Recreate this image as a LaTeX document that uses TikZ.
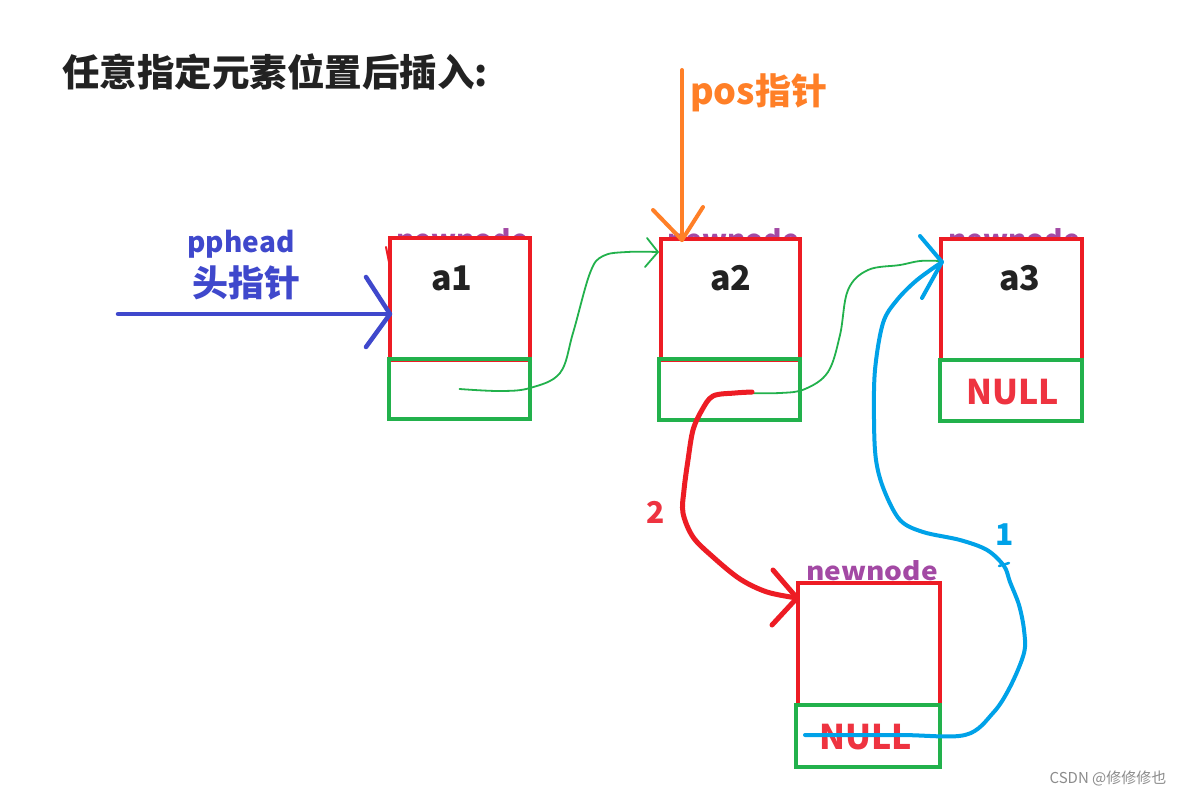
\documentclass[tikz,border=0pt]{standalone}
\usepackage{fontspec}
\setmainfont{Noto Sans CJK SC}
\definecolor{boxred}{HTML}{ED1C24}
\definecolor{boxgreen}{HTML}{22B14C}
\definecolor{hblue}{HTML}{3F48CC}
\definecolor{porange}{HTML}{FF7F27}
\definecolor{lblue}{HTML}{00A2E8}
\definecolor{nnpurple}{HTML}{A349A4}
\definecolor{titlec}{HTML}{222222}
\definecolor{redtxt}{HTML}{EE3340}
\begin{document}
\begin{tikzpicture}[x=1pt,y=-1pt,
  datbox/.style={draw=boxred,line width=4pt,fill=white},
  nxtbox/.style={draw=boxgreen,line width=4pt},
  lbl/.style={inner sep=0pt,font=\fontsize{34}{36}\selectfont\bfseries},
  nn/.style={inner sep=0pt,anchor=base,text=nnpurple,font=\fontsize{25}{27}\selectfont\bfseries,xscale=1.12},
  gline/.style={draw=boxgreen,line width=1.8pt,line cap=round,line join=round},
  hand/.style={line cap=round,line join=round}
]
\useasboundingbox (0,0) rectangle (1192,797);
\fill[white] (0,0) rectangle (1192,797);

% title
\node[inner sep=0pt,anchor=west,text=titlec,font=\fontsize{37.5}{40}\selectfont\bfseries] (title) at (62,72) {任意指定元素位置后插入:};

% hidden newnode labels (peeking above the boxes)
\node[nn] (nn1) at (462,248.5) {newnode};
\node[nn] (nn2) at (733,248.5) {newnode};
\node[nn] (nn3) at (1014,248.5) {newnode};

% node a1
\draw[datbox] (390,238) rectangle (530,360);
\node[minimum width=140pt,minimum height=122pt,inner sep=0pt] (a1) at (460,299) {};
\draw[nxtbox] (389,359) rectangle (530,419);
\coordinate (a1n) at (459.5,389);
% node a2
\draw[datbox] (661,239) rectangle (800,360);
\node[minimum width=139pt,minimum height=121pt,inner sep=0pt] (a2) at (730.5,299.5) {};
\draw[nxtbox] (659,359) rectangle (800,420);
% node a3
\draw[datbox] (941,239) rectangle (1082,360);
\node[minimum width=141pt,minimum height=121pt,inner sep=0pt] (a3) at (1011.5,299.5) {};
\draw[nxtbox] (940,360) rectangle (1082,421);
% newnode
\draw[datbox] (798,583) rectangle (940,705);
\node[minimum width=142pt,minimum height=122pt,inner sep=0pt] (nw) at (869,644) {};
\draw[nxtbox] (796,705) rectangle (940,767);

\node[lbl,text=titlec] (ta1) at (452,278) {a1};
\node[lbl,text=titlec] (ta2) at (731,278) {a2};
\node[lbl,text=titlec] (ta3) at (1020,278) {a3};
\node[lbl,text=redtxt] (null3) at (1013,392) {NULL};
\node[lbl,text=redtxt] (nullw) at (866,737) {NULL};
\node[nn] (nnw) at (872,580) {newnode};

% head pointer
\coordinate (hs) at (118,314);
\coordinate (he) at (390,314);
\draw[hand,hblue,line width=4.5pt] (hs) -- (he);
\draw[hand,hblue,line width=4.5pt] (366,277) -- (he) -- (366,347);
\node[inner sep=0pt,text=hblue,font=\fontsize{28}{30}\selectfont\bfseries] (pp) at (241,244) {pphead};
\node[inner sep=0pt,text=hblue,font=\fontsize{36}{38}\selectfont\bfseries] (tz) at (246,283) {头指针};
\draw[hand,boxred,line width=2pt] (386,247) -- (389,262);

% pos pointer
\coordinate (ps) at (682,70);
\coordinate (pe) at (682,240);
\draw[hand,porange,line width=4pt] (ps) -- (pe);
\draw[hand,porange,line width=4pt] (653,210) -- (pe) -- (703,207);
\node[inner sep=0pt,anchor=west,text=porange,font=\fontsize{36}{38}\selectfont\bfseries] (pos) at (690,93) {pos指针};

% green a1 -> a2
\coordinate (g1e) at (658,252);
\draw[gline] plot[smooth,tension=0.6] coordinates {(a1n) (500,391) (530,388) (560,373) (573,333) (590,273) (603,256) (627,252) (g1e)};
\draw[gline] (647,238) -- (g1e) -- (645,267);
% green a2 -> a3
\coordinate (g2s) at (738,393);
\coordinate (g2e) at (940,261);
\draw[gline] plot[smooth,tension=0.6] coordinates {(g2s) (780,393) (805,389) (828,372) (840,335) (848,290) (868,270) (900,265) (920,261) (g2e)};
\draw[gline] (927,273) -- (935,266);

% red 2
\coordinate (r2s) at (752,392);
\coordinate (r2e) at (797,598);
\draw[hand,boxred,line width=5pt] plot[smooth,tension=0.55] coordinates {(r2s) (735,393) (713,396) (702,410) (693,430) (688,460) (684,490) (683,513) (693,537) (713,557) (740,579) (767,592) (r2e)};
\draw[hand,boxred,line width=5pt] (773,570) -- (r2e) -- (772,625);
\node[inner sep=0pt,text=redtxt,font=\fontsize{30}{32}\selectfont\bfseries] (two) at (656,512) {2};

% blue 1
\coordinate (b1s) at (805,735);
\coordinate (b1e) at (942,262);
\draw[hand,lblue,line width=4pt] plot[smooth,tension=0.55] coordinates {(b1s) (900,735) (965,735) (993,713) (1010,687) (1024,653) (1024,630) (1019,605) (1010,582) (1004,566) (987,550) (960,540) (923,532) (900,520) (884,490) (876,460) (874,420) (875,370) (883,323) (897,300) (917,280) (b1e)};
\draw[hand,lblue,line width=4pt] (920,236) -- (b1e) -- (922,298);
\draw[hand,lblue,line width=2.5pt] (999,566) -- (1009,563);
\node[inner sep=0pt,text=lblue,font=\fontsize{30}{32}\selectfont\bfseries] (one) at (1005,535) {1};

% watermark
\node[inner sep=0pt,text=black!45,font=\fontsize{15}{17}\selectfont] (wm) at (1108,778) {CSDN @修修修也};
\end{tikzpicture}
\end{document}
